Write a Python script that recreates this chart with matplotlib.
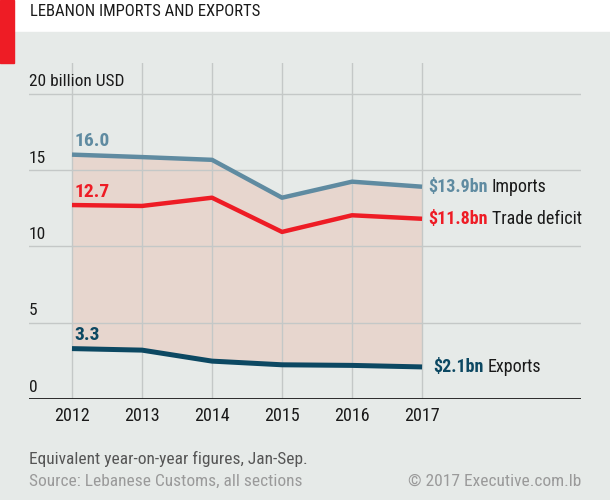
import matplotlib.pyplot as plt
from matplotlib.patches import Rectangle
from matplotlib.transforms import ScaledTranslation

# data (billion USD, Jan-Sep)
years = [2012, 2013, 2014, 2015, 2016, 2017]
imports = [16.0, 15.84, 15.66, 13.18, 14.23, 13.9]
exports = [3.3, 3.2, 2.48, 2.24, 2.2, 2.1]
deficit = [12.7, 12.64, 13.18, 10.94, 12.03, 11.8]

ytick_vals = [0, 5, 10, 15, 20]
ytick_labels = ['0', '5', '10', '15', '20 billion USD']

c_imp = '#5f8ba1'
c_def = '#ee1c25'
c_exp = '#0c4862'
c_bg = '#e6eae8'
c_fill = '#e7d6ce'
c_grid = '#c4c8c7'
c_txt = '#1a1a1a'

plt.rcParams['font.family'] = ['Roboto Condensed', 'DejaVu Sans']

fig = plt.figure(figsize=(6.1, 5.0), dpi=100, facecolor='white')

# grey panel and red tab
fig.patches.append(Rectangle((0, 0), 1, 1 - 32 / 500, transform=fig.transFigure,
                             color=c_bg, zorder=-10))
fig.patches.append(Rectangle((0, 1 - 63 / 500), 14 / 610, 63 / 500,
                             transform=fig.transFigure, color=c_def, zorder=-5))

fig.text(30 / 610, 1 - 11 / 500, 'LEBANON IMPORTS AND EXPORTS', fontsize=12,
         color=c_txt, ha='left', va='center')

ax = fig.add_axes([29 / 610, 1 - 399 / 500, 552 / 610, 336 / 500])
ax.set_facecolor('none')
for s in ax.spines.values():
    s.set_visible(False)

ax.set_xlim(2011.386, 2019.27)
ax.set_ylim(0, 22)

ax.fill_between(years, exports, imports, color=c_fill, zorder=1, lw=0)
ax.grid(True, color=c_grid, lw=1, zorder=2)
ax.set_axisbelow(False)
ax.axhline(0, color=c_txt, lw=2, zorder=5)

ax.plot(years, imports, color=c_imp, lw=3.2, zorder=4, solid_capstyle='butt')
ax.plot(years, deficit, color=c_def, lw=3.2, zorder=4, solid_capstyle='butt')
ax.plot(years, exports, color=c_exp, lw=3.6, zorder=4, solid_capstyle='butt')

ax.set_xticks(years)
ax.set_xticklabels([str(y) for y in years], fontsize=13, color=c_txt)
ax.set_yticks(ytick_vals)
ax.set_yticklabels(ytick_labels, fontsize=12.5, color=c_txt, ha='left', va='bottom')
ax.tick_params(axis='both', length=0)
ax.tick_params(axis='x', pad=6)
ax.tick_params(axis='y', pad=0)
for lab in ax.get_yticklabels():
    lab.set_transform(lab.get_transform() + ScaledTranslation(0, 3 / 72, fig.dpi_scale_trans))

# start labels
for vals, col in [(imports, c_imp), (deficit, c_def), (exports, c_exp)]:
    ax.annotate(f'{vals[0]:.1f}', (years[0], vals[0]), xytext=(2, 3),
                textcoords='offset points', color=col, fontsize=14, fontweight='bold',
                ha='left', va='bottom')

# end labels
ends = [(imports[-1], c_imp, 'Imports', 4.5), (deficit[-1], c_def, 'Trade deficit', 4.5),
        (exports[-1], c_exp, 'Exports', 8)]
for val, col, name, off in ends:
    t = ax.annotate(f'${val:.1f}bn', (years[-1], val), xytext=(off, 0),
                    textcoords='offset points', color=col, fontsize=13,
                    fontweight='bold', ha='left', va='center')
    ax.annotate(name, xy=(1, 0.5), xycoords=t, xytext=(3, 0),
                textcoords='offset points', color=c_txt, fontsize=13,
                ha='left', va='center')

fig.text(29 / 610, 1 - 459 / 500, 'Equivalent year-on-year figures, Jan-Sep.',
         fontsize=12.5, color='#555555', ha='left', va='center')
fig.text(29 / 610, 1 - 481 / 500, 'Source: Lebanese Customs, all sections',
         fontsize=12.5, color='#9a9a9a', ha='left', va='center')
fig.text(581 / 610, 1 - 481 / 500, '\u00a9 2017 Executive.com.lb',
         fontsize=12.5, color='#9a9a9a', ha='right', va='center')

fig.savefig('out.png', dpi=100, facecolor=fig.get_facecolor())
